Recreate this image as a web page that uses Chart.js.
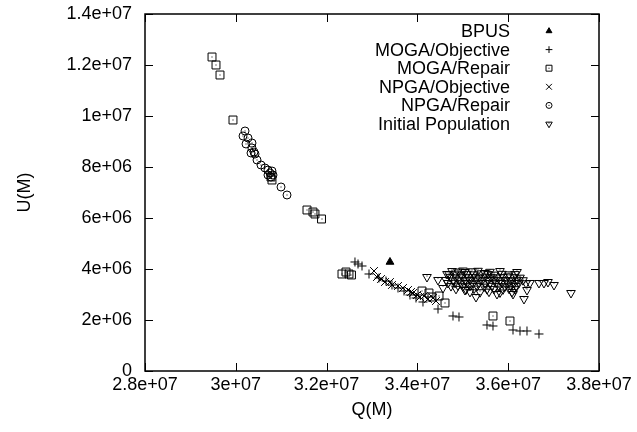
<!DOCTYPE html>
<html>
<head>
<meta charset="utf-8">
<script src="https://cdn.jsdelivr.net/npm/chart.js@4.4.0/dist/chart.umd.min.js"></script>
<style>
  body { margin: 0; background: #fff; }
  #wrap { width: 637px; height: 432px; }
</style>
</head>
<body>
<div id="wrap"><canvas id="myChart" width="637" height="432"></canvas></div>
<script>
var seriesNames = ['BPUS', 'MOGA/Objective', 'MOGA/Repair', 'NPGA/Objective', 'NPGA/Repair', 'Initial Population'];
var xTickLabels = ['2.8e+07', '3e+07', '3.2e+07', '3.4e+07', '3.6e+07', '3.8e+07'];
var yTickLabels = ['0', '2e+06', '4e+06', '6e+06', '8e+06', '1e+07', '1.2e+07', '1.4e+07'];

var bpusQ = [3.3396e7];
var bpusU = [4.275e6];

var mogaObjQ = [3.2625e7, 3.2692e7, 3.2780e7, 3.2934e7, 3.3154e7, 3.3308e7, 3.3440e7, 3.3573e7, 3.3705e7, 3.3837e7, 3.3969e7,
  3.4123e7, 3.4454e7, 3.4784e7, 3.4916e7, 3.5533e7, 3.5665e7, 3.6106e7, 3.6260e7, 3.6414e7, 3.6678e7];
var mogaObjU = [4.275e6, 4.196e6, 4.118e6, 3.804e6, 3.647e6, 3.529e6, 3.373e6, 3.255e6, 3.137e6, 2.980e6, 2.863e6,
  2.706e6, 2.431e6, 2.157e6, 2.118e6, 1.804e6, 1.765e6, 1.608e6, 1.569e6, 1.569e6, 1.451e6];

var mogaRepQ = [2.9476e7, 2.9564e7, 2.9652e7, 2.9938e7, 3.0775e7, 3.0797e7, 3.1568e7, 3.1700e7, 3.1744e7, 3.1888e7,
  3.2339e7, 3.2427e7, 3.2493e7, 3.2548e7, 3.4101e7, 3.4255e7, 3.4321e7, 3.4476e7, 3.4608e7, 3.5665e7, 3.6039e7];
var mogaRepU = [1.2314e7, 1.2000e7, 1.1608e7, 9.843e6, 7.608e6, 7.490e6, 6.314e6, 6.235e6, 6.157e6, 5.961e6,
  3.804e6, 3.882e6, 3.804e6, 3.765e6, 3.137e6, 3.059e6, 2.902e6, 2.941e6, 2.667e6, 2.157e6, 1.961e6];

var npgaObjQ = [3.3044e7, 3.3110e7, 3.3198e7, 3.3286e7, 3.3396e7, 3.3440e7, 3.3573e7, 3.3683e7, 3.3793e7, 3.3859e7,
  3.3903e7, 3.3991e7, 3.4057e7, 3.4145e7, 3.4233e7, 3.4343e7, 3.4410e7];
var npgaObjU = [3.922e6, 3.686e6, 3.608e6, 3.490e6, 3.490e6, 3.373e6, 3.333e6, 3.255e6, 3.176e6, 3.098e6,
  3.059e6, 2.980e6, 2.902e6, 2.941e6, 2.824e6, 2.863e6, 2.745e6];

var npgaRepQ = [3.0203e7, 3.0159e7, 3.0269e7, 3.0225e7, 3.0357e7, 3.0357e7, 3.0401e7, 3.0335e7, 3.0423e7, 3.0467e7,
  3.0555e7, 3.0643e7, 3.0709e7, 3.0797e7, 3.0753e7, 3.0819e7, 3.0709e7, 3.0775e7, 3.0996e7, 3.1128e7];
var npgaRepU = [9.412e6, 9.216e6, 9.137e6, 8.902e6, 8.941e6, 8.745e6, 8.588e6, 8.549e6, 8.510e6, 8.275e6,
  8.078e6, 7.961e6, 7.882e6, 7.843e6, 7.765e6, 7.686e6, 7.686e6, 7.608e6, 7.216e6, 6.902e6];

var initQ = [
  3.4211e7, 3.4454e7, 3.4652e7, 3.4564e7, 3.5048e7, 3.5048e7, 3.5291e7, 3.5489e7, 3.5753e7, 3.6106e7,
  3.6194e7, 3.6348e7, 3.6678e7, 3.6788e7, 3.6876e7, 3.7009e7, 3.7383e7, 3.6414e7, 3.6480e7,
  3.4762e7, 3.4894e7, 3.5004e7, 3.5203e7, 3.5335e7, 3.5599e7, 3.5819e7,
  3.4696e7, 3.4828e7, 3.4960e7, 3.5092e7, 3.5247e7, 3.5401e7, 3.5555e7, 3.5687e7, 3.5863e7, 3.6017e7, 3.6150e7,
  3.4718e7, 3.4850e7, 3.4982e7, 3.5114e7, 3.5225e7, 3.5357e7, 3.5489e7, 3.5621e7, 3.5753e7, 3.5885e7, 3.5995e7, 3.6128e7, 3.6260e7,
  3.4630e7, 3.4784e7, 3.4916e7, 3.5048e7, 3.5158e7, 3.5291e7, 3.5423e7, 3.5555e7, 3.5687e7, 3.5819e7, 3.5951e7, 3.6062e7, 3.6194e7, 3.6326e7,
  3.4674e7, 3.4828e7, 3.4960e7, 3.5092e7, 3.5225e7, 3.5357e7, 3.5489e7, 3.5599e7, 3.5731e7, 3.5863e7, 3.5995e7, 3.6128e7, 3.6238e7, 3.6392e7,
  3.4740e7, 3.4894e7, 3.5004e7, 3.5158e7, 3.5313e7, 3.5467e7, 3.5643e7, 3.5797e7, 3.5929e7, 3.6062e7, 3.6172e7,
  3.4850e7, 3.5070e7, 3.5247e7, 3.5533e7, 3.5687e7, 3.5885e7, 3.6017e7, 3.6150e7,
  3.5158e7, 3.5379e7, 3.5577e7, 3.5819e7, 3.6084e7
];
var initU = [
  3.686e6, 3.569e6, 3.804e6, 3.255e6, 3.882e6, 3.176e6, 2.902e6, 3.843e6, 3.020e6, 3.020e6,
  3.882e6, 2.824e6, 3.451e6, 3.451e6, 3.490e6, 3.373e6, 3.059e6, 3.176e6, 3.451e6,
  3.92e6, 3.90e6, 3.94e6, 3.91e6, 3.93e6, 3.89e6, 3.92e6,
  3.80e6, 3.82e6, 3.78e6, 3.81e6, 3.79e6, 3.83e6, 3.80e6, 3.78e6, 3.81e6, 3.79e6, 3.80e6,
  3.69e6, 3.67e6, 3.70e6, 3.68e6, 3.69e6, 3.66e6, 3.70e6, 3.68e6, 3.67e6, 3.69e6, 3.71e6, 3.68e6, 3.66e6,
  3.57e6, 3.55e6, 3.58e6, 3.56e6, 3.57e6, 3.59e6, 3.55e6, 3.57e6, 3.58e6, 3.56e6, 3.57e6, 3.55e6, 3.58e6, 3.56e6,
  3.45e6, 3.46e6, 3.44e6, 3.45e6, 3.43e6, 3.46e6, 3.45e6, 3.44e6, 3.46e6, 3.45e6, 3.43e6, 3.45e6, 3.46e6, 3.44e6,
  3.33e6, 3.35e6, 3.32e6, 3.34e6, 3.33e6, 3.31e6, 3.34e6, 3.33e6, 3.32e6, 3.35e6, 3.33e6,
  3.22e6, 3.20e6, 3.23e6, 3.21e6, 3.22e6, 3.20e6, 3.23e6, 3.21e6,
  3.10e6, 3.09e6, 3.11e6, 3.08e6, 3.10e6
];

// gnuplot-ish point types
var styles = ['triangle', 'cross', 'rect', 'crossRot', 'circle', 'triangle'];
var radii = [4.5, 4.5, 5.6, 5.5, 4, 5];
var rotations = [0, 0, 0, 0, 0, 180];
var fills = ['#000', '#000', 'rgba(0,0,0,0)', '#000', 'rgba(0,0,0,0)', 'rgba(0,0,0,0)'];
var dotted = [false, false, true, false, true, true];

function pts(qs, us) {
    var out = [];
    for (var i = 0; i < qs.length; i++) {
        out.push({x: qs[i], y: us[i]});
    }
    return out;
}

var framePlugin = {
    id: 'frame',
    afterDatasetsDraw: function(chart) {
        // little centre dot of the boxed/circled/triangle points
        var ctx = chart.ctx;
        ctx.save();
        ctx.fillStyle = '#000';
        chart.data.datasets.forEach(function(ds, i) {
            if (!dotted[i]) return;
            chart.getDatasetMeta(i).data.forEach(function(el) {
                var dy = i == 5 ? -1.5 : 0;
                ctx.fillRect(Math.round(el.x) - 0.5, Math.round(el.y + dy) - 0.5, 1, 1);
            });
        });
        ctx.restore();
    },
    afterDraw: function(chart) {
        var ctx = chart.ctx, a = chart.chartArea;
        var sx = chart.scales.x, sy = chart.scales.y;
        ctx.save();
        ctx.strokeStyle = '#000';
        ctx.lineWidth = 1.5;
        ctx.strokeRect(a.left, a.top, a.right - a.left, a.bottom - a.top);
        ctx.beginPath();
        sx.ticks.forEach(function(t) {
            var px = Math.round(sx.getPixelForValue(t.value)) + 0.5;
            ctx.moveTo(px, a.bottom); ctx.lineTo(px, a.bottom - 8);
            ctx.moveTo(px, a.top); ctx.lineTo(px, a.top + 8);
        });
        sy.ticks.forEach(function(t) {
            var py = Math.round(sy.getPixelForValue(t.value)) + 0.5;
            ctx.moveTo(a.left, py); ctx.lineTo(a.left + 8, py);
            ctx.moveTo(a.right, py); ctx.lineTo(a.right - 8, py);
        });
        ctx.lineWidth = 1;
        ctx.stroke();

        // legend, text right aligned with the marker to its right
        ctx.font = '18px "Liberation Sans", Arial, sans-serif';
        ctx.fillStyle = '#000';
        ctx.textAlign = 'right';
        ctx.textBaseline = 'middle';
        for (var i = 0; i < seriesNames.length; i++) {
            var y = 31 + i * 18.6;
            ctx.fillText(seriesNames[i], 510, y + 1);
            ctx.strokeStyle = '#000';
            ctx.fillStyle = fills[i];
            ctx.lineWidth = 1;
            Chart.helpers.drawPoint(ctx, {pointStyle: styles[i], radius: radii[i] * 0.75, rotation: rotations[i], borderWidth: 1}, 549, y);
            ctx.fillStyle = '#000';
            if (dotted[i]) ctx.fillRect(548.5, y - 0.5 - (i == 5 ? 1 : 0), 1, 1);
        }
        ctx.restore();
    }
};

var ctx = document.getElementById('myChart').getContext('2d');
Chart.defaults.font.family = '"Liberation Sans", Arial, sans-serif';
Chart.defaults.font.size = 18;
Chart.defaults.color = '#000';

var allQ = [bpusQ, mogaObjQ, mogaRepQ, npgaObjQ, npgaRepQ, initQ];
var allU = [bpusU, mogaObjU, mogaRepU, npgaObjU, npgaRepU, initU];
var datasets = [];
for (var i = 0; i < seriesNames.length; i++) {
    datasets.push({
        label: seriesNames[i],
        data: pts(allQ[i], allU[i]),
        pointStyle: styles[i],
        pointRadius: radii[i],
        pointRotation: rotations[i],
        pointBorderWidth: 1,
        pointBorderColor: '#000',
        pointBackgroundColor: fills[i],
        order: seriesNames.length - i
    });
}

var chart = new Chart(ctx, {
    type: 'scatter',
    data: {datasets: datasets},
    options: {
        responsive: false,
        animation: false,
        layout: {padding: {left: 0, right: 38, top: 14, bottom: 0}},
        plugins: {legend: {display: false}, tooltip: {enabled: false}},
        scales: {
            x: {
                type: 'linear', min: 2.8e7, max: 3.8e7,
                grid: {display: false, drawTicks: false}, border: {display: false},
                ticks: {stepSize: 2e6, padding: 3, maxRotation: 0,
                    callback: function(v, i) { return xTickLabels[i]; }},
                title: {display: true, text: 'Q(M)', padding: {top: 0, bottom: 11}},
                afterFit: function(s) { s.height = 61; s.paddingLeft = 0; s.paddingRight = 0; }
            },
            y: {
                type: 'linear', min: 0, max: 1.4e7,
                grid: {display: false, drawTicks: false}, border: {display: false},
                ticks: {stepSize: 2e6, padding: 13,
                    callback: function(v, i) { return yTickLabels[i]; }},
                title: {display: true, text: 'U(M)', padding: {top: 14, bottom: 0}},
                afterFit: function(s) { s.width = 145; s.paddingTop = 0; s.paddingBottom = 0; }
            }
        }
    },
    plugins: [framePlugin]
});
</script>
</body>
</html>
